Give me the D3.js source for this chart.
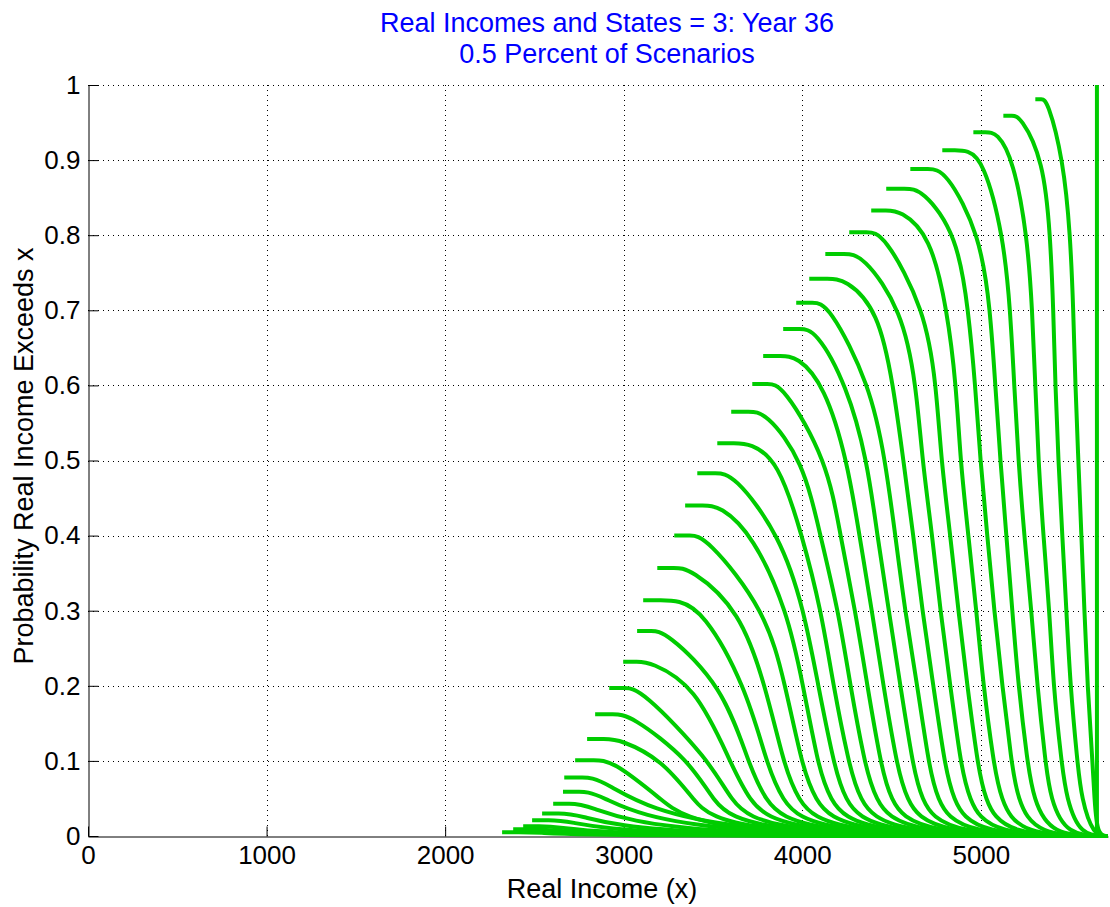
<!DOCTYPE html>
<html>
<head>
<meta charset="utf-8">
<script src="https://cdn.jsdelivr.net/npm/d3@7"></script>
<style>
  body { margin: 0; background: #fff; }
  text { font-family: "Liberation Sans", Arial, Helvetica, sans-serif; }
</style>
</head>
<body>
<svg id="chart" width="1110" height="907"></svg>
<script>
// ---- chart text ----
const titleLines = ["Real Incomes and States = 3: Year 36", "0.5 Percent of Scenarios"];
const xLabel = "Real Income (x)";
const yLabel = "Probability Real Income Exceeds x";

// ---- axes ----
const xTicks = [0, 1000, 2000, 3000, 4000, 5000];
const yTicks = [0, 0.1, 0.2, 0.3, 0.4, 0.5, 0.6, 0.7, 0.8, 0.9, 1];
const xMax = 5712;

// ---- exceedance curves (one entry per curve, highest first) ----
// probability level of each curve's flat top
const plateau = [0.981, 0.959, 0.937, 0.913, 0.888, 0.862, 0.833, 0.804, 0.775, 0.742,
                 0.710, 0.675, 0.639, 0.602, 0.565, 0.523, 0.483, 0.440, 0.400, 0.357,
                 0.314, 0.273, 0.232, 0.197, 0.162, 0.129, 0.101, 0.078, 0.059, 0.043,
                 0.030, 0.021, 0.013, 0.009, 0.005];
// income where each curve begins
const startIncome = [5305, 5126, 4958, 4784, 4605, 4470, 4386, 4263, 4129, 4039,
                     3966, 3893, 3781, 3720, 3602, 3524, 3412, 3344, 3283, 3188,
                     3109, 3075, 2997, 2919, 2840, 2795, 2728, 2667, 2660, 2605,
                     2543, 2487, 2437, 2381, 2319];
// income where the flat top ends and the descent starts
const kneeIncome = [5372, 5221, 5092, 4924, 4801, 4672, 4549, 4454, 4336, 4241,
                    4145, 4073, 3972, 3888, 3793, 3709, 3613, 3540, 3456, 3372,
                    3305, 3232, 3148, 3092, 3036, 2980, 2935, 2868, 2840, 2784,
                    2728, 2672, 2616, 2560, 2504];
// income where each curve reaches zero
const endIncome = [5652, 5630, 5557, 5479, 5389, 5305, 5215, 5131, 5047, 4963,
                   4879, 4795, 4717, 4633, 4555, 4471, 4392, 4314, 4235, 4145,
                   4061, 3972, 3888, 3787, 3686, 3574, 3456, 3361, 3288, 3215,
                   3137, 3064, 2980, 2902, 2823];

// income at which each curve passes a given probability (missing: not crossed there)
const levels = [0.9, 0.8, 0.7, 0.6, 0.5, 0.4, 0.3, 0.2, 0.1, 0.05];
const cross90 = [5462, 5350, 5182, 5014];
const cross80 = [5501, 5389, 5260, 5126, 4997, 4868, 4717];
const cross70 = [5518, 5406, 5288, 5165, 5053, 4930, 4812, 4689, 4560, 4426];
const cross60 = [5529, 5417, 5305, 5187, 5081, 4969, 4862, 4750, 4638, 4510,
                 4381, 4250, 4125];
const cross50 = [5546, 5434, 5322, 5210, 5109, 4997, 4885, 4778, 4672, 4566,
                 4465, 4364, 4252, 4140, 4005, 3865];
const cross40 = [5563, 5456, 5350, 5243, 5143, 5036, 4930, 4829, 4728, 4622,
                 4521, 4420, 4320, 4213, 4101, 4000, 3877, 3725];
const cross30 = [5580, 5479, 5384, 5283, 5176, 5075, 4975, 4874, 4773, 4672,
                 4575, 4485, 4390, 4297, 4202, 4106, 4011, 3916, 3798, 3653,
                 3445];
const cross20 = [5597, 5501, 5406, 5316, 5210, 5120, 5014, 4924, 4829, 4734,
                 4644, 4549, 4454, 4364, 4269, 4174, 4089, 4005, 3905, 3793,
                 3681, 3552, 3400];
const cross10 = [5625, 5540, 5451, 5361, 5260, 5171, 5070, 4980, 4885, 4795,
                 4706, 4616, 4526, 4437, 4347, 4258, 4174, 4084, 3994, 3893,
                 3798, 3697, 3596, 3484, 3372, 3221];
const cross05 = [5636, 5563, 5479, 5389, 5294, 5204, 5109, 5019, 4930, 4840,
                 4750, 4661, 4577, 4487, 4403, 4314, 4230, 4145, 4061, 3966,
                 3877, 3781, 3692, 3591, 3490, 3384, 3204];
const crossings = [cross90, cross80, cross70, cross60, cross50, cross40, cross30, cross20, cross10, cross05];

// certain-income scenario: a vertical step from 0 to 1
const stepIncome = 5650;

// ---- layout ----
const svg = d3.select("#chart");
const margin = { left: 88, right: 1108, top: 85, bottom: 836 };
const x = d3.scaleLinear().domain([0, xMax]).range([margin.left, margin.right]);
const y = d3.scaleLinear().domain([0, 1]).range([margin.bottom, margin.top]);
const lineColor = "#00cc00";

// grid
const grid = svg.append("g").attr("stroke", "#000").attr("stroke-width", 1)
  .attr("stroke-dasharray", "1,4");
grid.selectAll("line.h").data(yTicks.filter(d => d > 0)).join("line")
  .attr("x1", margin.left).attr("x2", margin.right)
  .attr("y1", d => Math.round(y(d)) + 0.5).attr("y2", d => Math.round(y(d)) + 0.5);
grid.selectAll("line.v").data(xTicks.filter(d => d > 0)).join("line")
  .attr("y1", margin.top).attr("y2", margin.bottom)
  .attr("x1", d => Math.round(x(d)) + 0.5).attr("x2", d => Math.round(x(d)) + 0.5);

// axes
const fmt = d3.format("~g");
const yAxis = svg.append("g").attr("transform", `translate(${margin.left + 0.5},0)`)
  .call(d3.axisLeft(y).tickValues(yTicks).tickFormat(fmt).tickSizeInner(-10).tickSizeOuter(0).tickPadding(8));
const xAxis = svg.append("g").attr("transform", `translate(0,${margin.bottom + 0.5})`)
  .call(d3.axisBottom(x).tickValues(xTicks).tickFormat(fmt).tickSizeInner(-10).tickSizeOuter(0).tickPadding(9));
[xAxis, yAxis].forEach(a => {
  a.select(".domain").attr("stroke", "#000");
  a.selectAll(".tick line").attr("stroke", "#000");
  a.selectAll(".tick text").attr("fill", "#000").style("font-size", "26px")
    .style("font-family", '"Liberation Sans", Arial, sans-serif');
});

// curves: flat top from start to knee (its midpoint keeps the spline level), then the descent
const curves = plateau.map((h, i) => {
  const s = startIncome[i], k = kneeIncome[i];
  const pts = [[s, h], [(s + k) / 2, h], [k, h]];
  levels.forEach((lv, j) => {
    const v = crossings[j][i];
    if (v != null && lv < h) pts.push([v, lv]);
  });
  pts.push([endIncome[i], 0], [xMax, 0]);
  return pts;
});

const line = d3.line().x(d => x(d[0])).y(d => y(d[1])).curve(d3.curveBasis);
svg.append("g").attr("fill", "none").attr("stroke", lineColor).attr("stroke-width", 4)
  .selectAll("path").data(curves).join("path").attr("d", line);

svg.append("path")
  .attr("d", d3.line().x(d => x(d[0])).y(d => y(d[1]))([[stepIncome, 0], [stepIncome, 1]]))
  .attr("fill", "none").attr("stroke", lineColor).attr("stroke-width", 4);

// titles and labels
svg.selectAll("text.title").data(titleLines).join("text").attr("class", "title")
  .attr("x", 607).attr("y", (d, i) => 32 + i * 31)
  .attr("text-anchor", "middle").attr("fill", "#0000ff").style("font-size", "27px")
  .text(d => d);

svg.append("text").attr("x", 602).attr("y", 898).attr("text-anchor", "middle")
  .attr("fill", "#000").style("font-size", "27px").text(xLabel);

svg.append("text").attr("transform", "translate(33,456) rotate(-90)")
  .attr("text-anchor", "middle").attr("fill", "#000").style("font-size", "27px").text(yLabel);
</script>
</body>
</html>
